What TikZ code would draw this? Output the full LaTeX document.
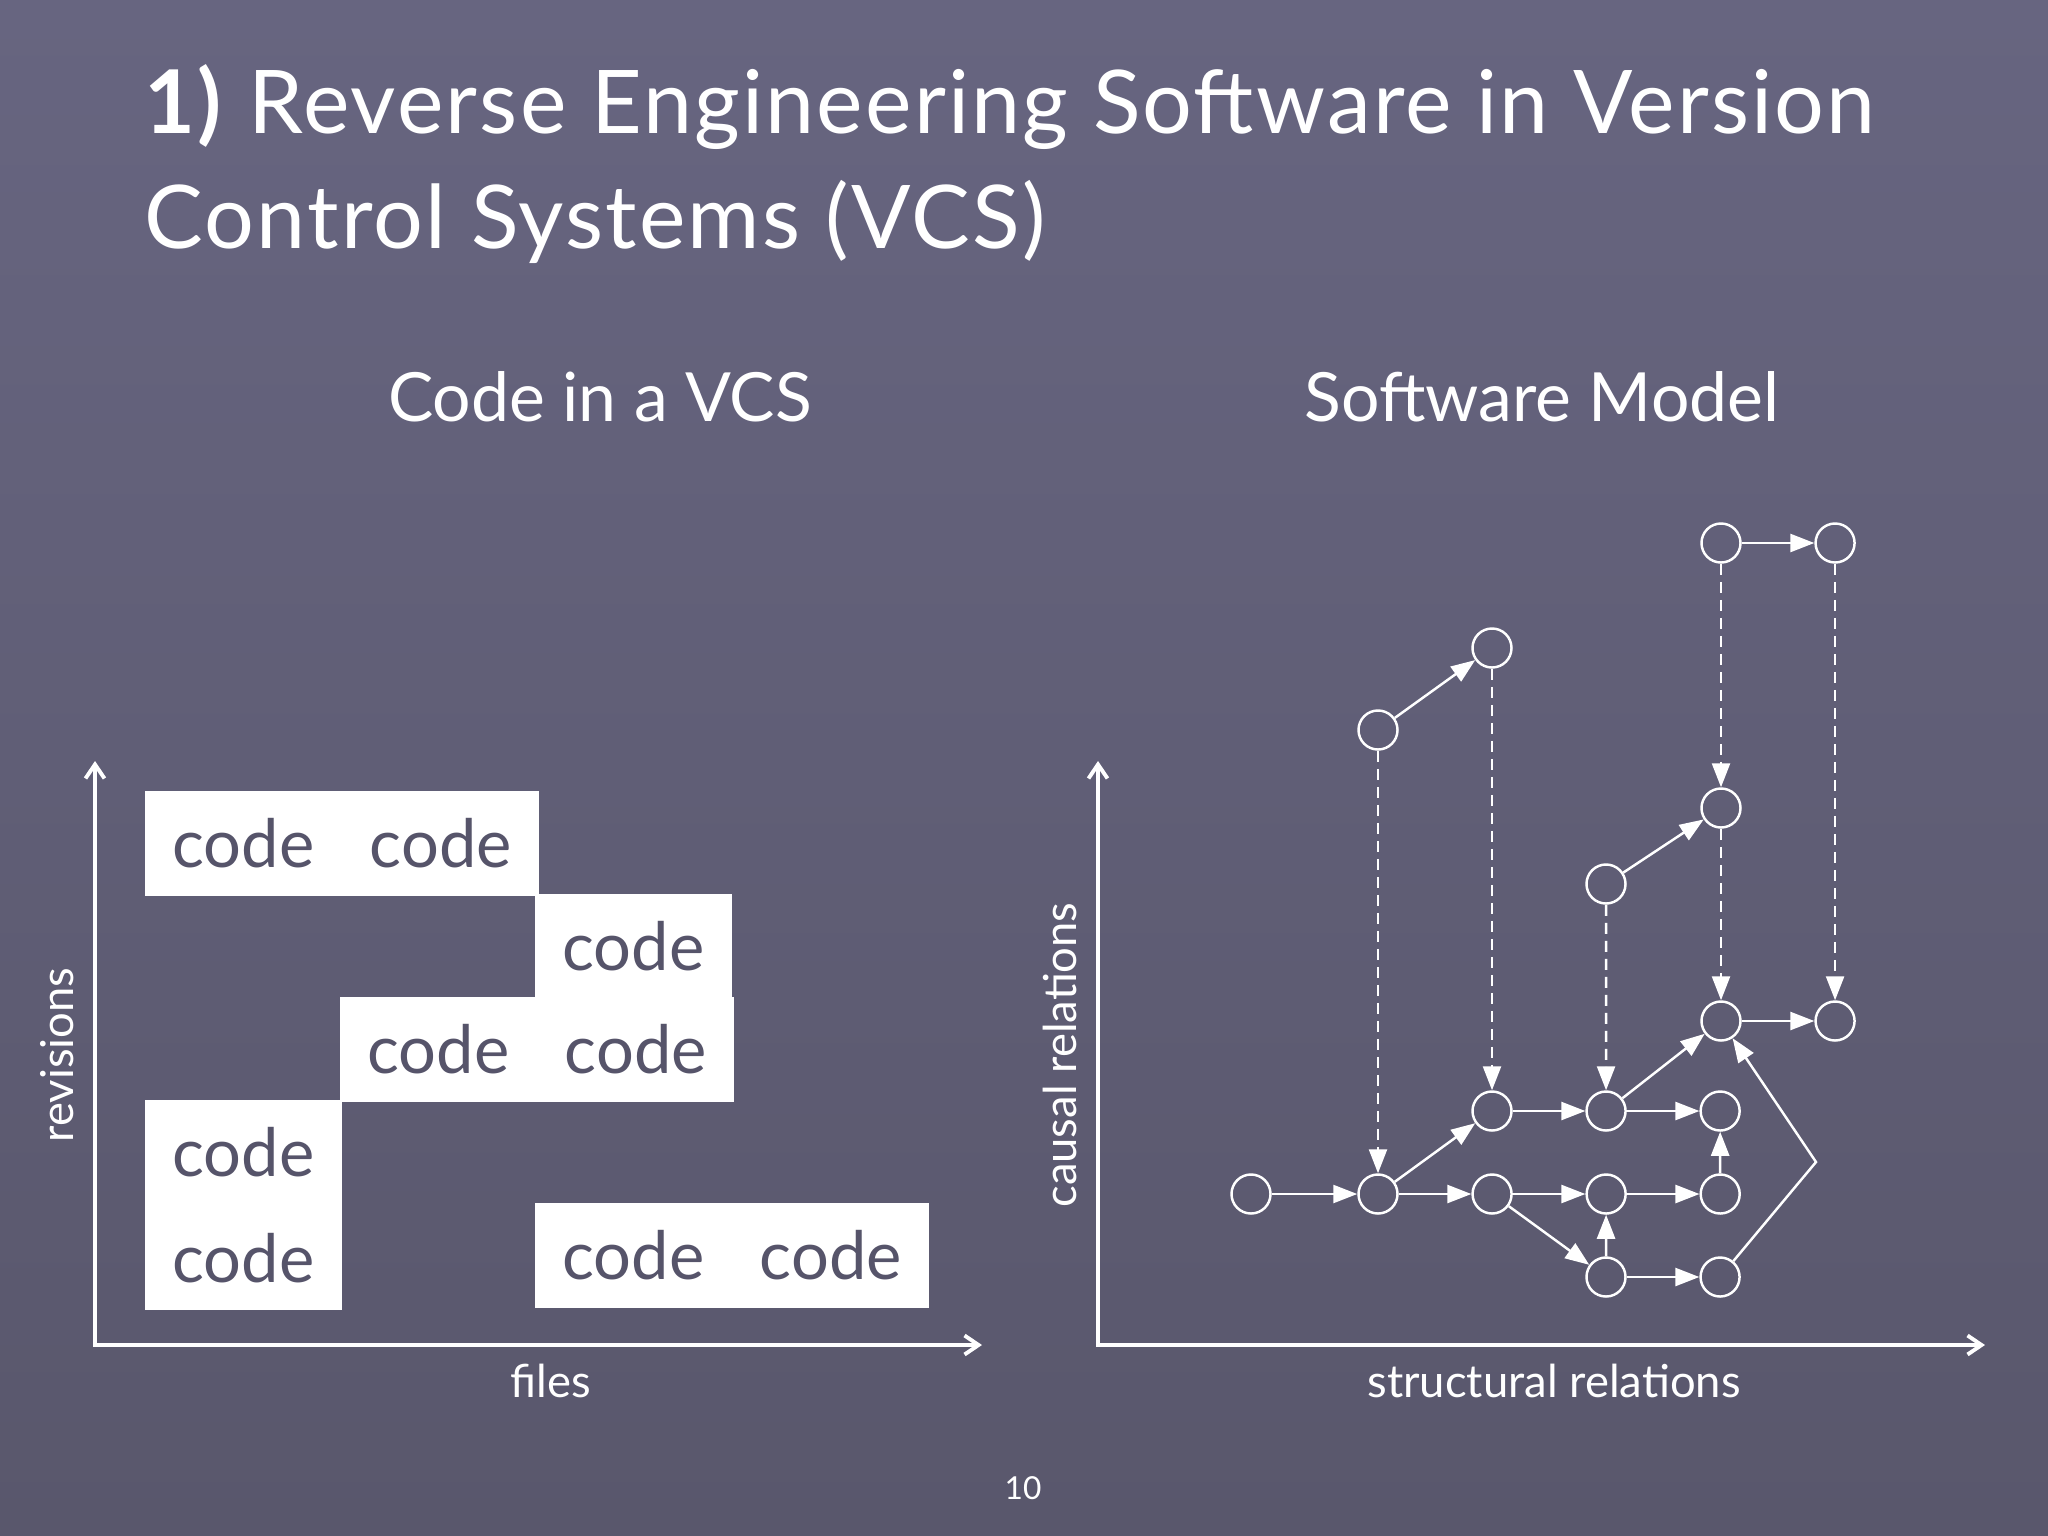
\documentclass[tikz,border=0pt]{standalone}
\usepackage{fontspec}
\setmainfont{Lato}
\usetikzlibrary{arrows.meta,positioning}
\definecolor{bgtop}{RGB}{103,101,128}
\definecolor{bgbottom}{RGB}{89,87,108}
\definecolor{codegray}{RGB}{86,84,106}
\tikzset{
    slidetitle/.style = {anchor=base west, inner sep=0pt, text=white, font=\fontsize{25}{30}\selectfont\addfontfeatures{LetterSpace=2.5}},
    heading/.style = {anchor=base, inner sep=0pt, text=white, font=\fontsize{19.3}{23}\selectfont},
    axislabel/.style = {anchor=base, inner sep=0pt, text=white, font=\fontsize{12.9}{15}\selectfont},
    pagenum/.style = {anchor=base, inner sep=0pt, text=white, font=\fontsize{9}{11}\selectfont},
    cell/.style = {rectangle, minimum width=1.95cm, minimum height=1.03cm, inner sep=0pt, fill=white, draw=white, line width=0.6pt, text=codegray, font=\fontsize{19}{22}\selectfont},
    entity/.style = {circle, minimum size=0.39cm, inner sep=0pt, draw=white, line width=0.7pt},
    axisline/.style = {white, line width=1.1pt, {Straight Barb[length=1.4mm,width=1.9mm]}-{Straight Barb[length=1.4mm,width=1.9mm]}},
    arrow/.style = {white, line width=0.7pt, -{Triangle[length=2.4mm,width=1.8mm]}},
    dasharrow/.style = {arrow, dash pattern=on 1.1mm off 0.7mm}
}
\begin{document}
\begin{tikzpicture}[x=0.01cm, y=-0.01cm, node distance=1.14cm]
\shade [top color=bgtop, bottom color=bgbottom] (0,0) rectangle (2048,1536);
\useasboundingbox (0,0) rectangle (2048,1536);

% titles
\node (title1) [slidetitle] at (144,133) {\textbf{1)} Reverse Engineering Software in Version};
\node (title2) [slidetitle] at (144,248) {Control Systems (VCS)};
\node (vcshead) [heading] at (600,421) {Code in a VCS};
\node (modelhead) [heading] at (1542,421) {Software Model};

% code in a VCS
\coordinate (lorigin) at (95,1345);
\coordinate (ltop) at (95,761);
\coordinate (lright) at (982,1345);
\draw [axisline] (ltop) -- (lorigin) -- (lright);
\node (revisions) [axislabel, rotate=90] at (73,1055) {revisions};
\node (files) [axislabel] at (551,1397) {files};

\node (c11) [cell] at (243.5,843.5) {code};
\node (c12) [cell, right=0pt of c11] {code};
\node (c23) [cell] at (633.5,946.5) {code};
\node (c32) [cell] at (438.5,1049.5) {code};
\node (c33) [cell, right=0pt of c32] {code};
\node (c41) [cell] at (243.5,1152.5) {code};
\node (c51) [cell, below=0pt of c41] {code};
\node (c53) [cell] at (633.5,1255.5) {code};
\node (c54) [cell, right=0pt of c53] {code};

% software model
\coordinate (rorigin) at (1098,1345);
\coordinate (rtop) at (1098,761);
\coordinate (rright) at (1985,1345);
\draw [axisline] (rtop) -- (rorigin) -- (rright);
\node (causal) [axislabel, rotate=90] at (1076,1055) {causal relations};
\node (structural) [axislabel] at (1554,1397) {structural relations};

\node (n1) [entity] at (1251,1194) {};
\node (n2) [entity] at (1378,1194) {};
\node (n3) [entity, right of=n2] {};
\node (n4) [entity, right of=n3] {};
\node (n5) [entity, right of=n4] {};
\node (n6) [entity] at (1492,1111) {};
\node (n7) [entity, right of=n6] {};
\node (n8) [entity, right of=n7] {};
\node (n9) [entity] at (1606,1277) {};
\node (n10) [entity, right of=n9] {};
\node (n11) [entity] at (1721,1021) {};
\node (n12) [entity, right of=n11] {};
\node (n13) [entity] at (1606,884) {};
\node (n14) [entity] at (1721,808) {};
\node (n15) [entity] at (1378,730) {};
\node (n16) [entity] at (1492,648) {};
\node (n17) [entity] at (1721,543) {};
\node (n18) [entity, right of=n17] {};
\coordinate (bend) at (1816,1162);

\draw [arrow] (n1) -- (n2);
\draw [arrow] (n2) -- (n3);
\draw [arrow] (n2) -- (n6);
\draw [arrow] (n3) -- (n4);
\draw [arrow] (n3) -- (n9);
\draw [arrow] (n4) -- (n5);
\draw [arrow] (n9) -- (n4);
\draw [arrow] (n9) -- (n10);
\draw [arrow] (n5) -- (n8);
\draw [arrow] (n6) -- (n7);
\draw [arrow] (n7) -- (n8);
\draw [arrow] (n7) -- (n11);
\draw [arrow] (n11) -- (n12);
\draw [arrow] (n10) -- (bend) -- (n11);
\draw [arrow] (n13) -- (n14);
\draw [arrow] (n15) -- (n16);
\draw [arrow] (n17) -- (n18);

\draw [dasharrow] (n15) -- (n2);
\draw [dasharrow] (n16) -- (n6);
\draw [dasharrow] (n13) -- (n7);
\draw [dasharrow] (n14) -- (n11);
\draw [dasharrow] (n17) -- (n14);
\draw [dasharrow] (n18) -- (n12);

\node (pageno) [pagenum] at (1023,1499) {10};
\end{tikzpicture}
\end{document}
